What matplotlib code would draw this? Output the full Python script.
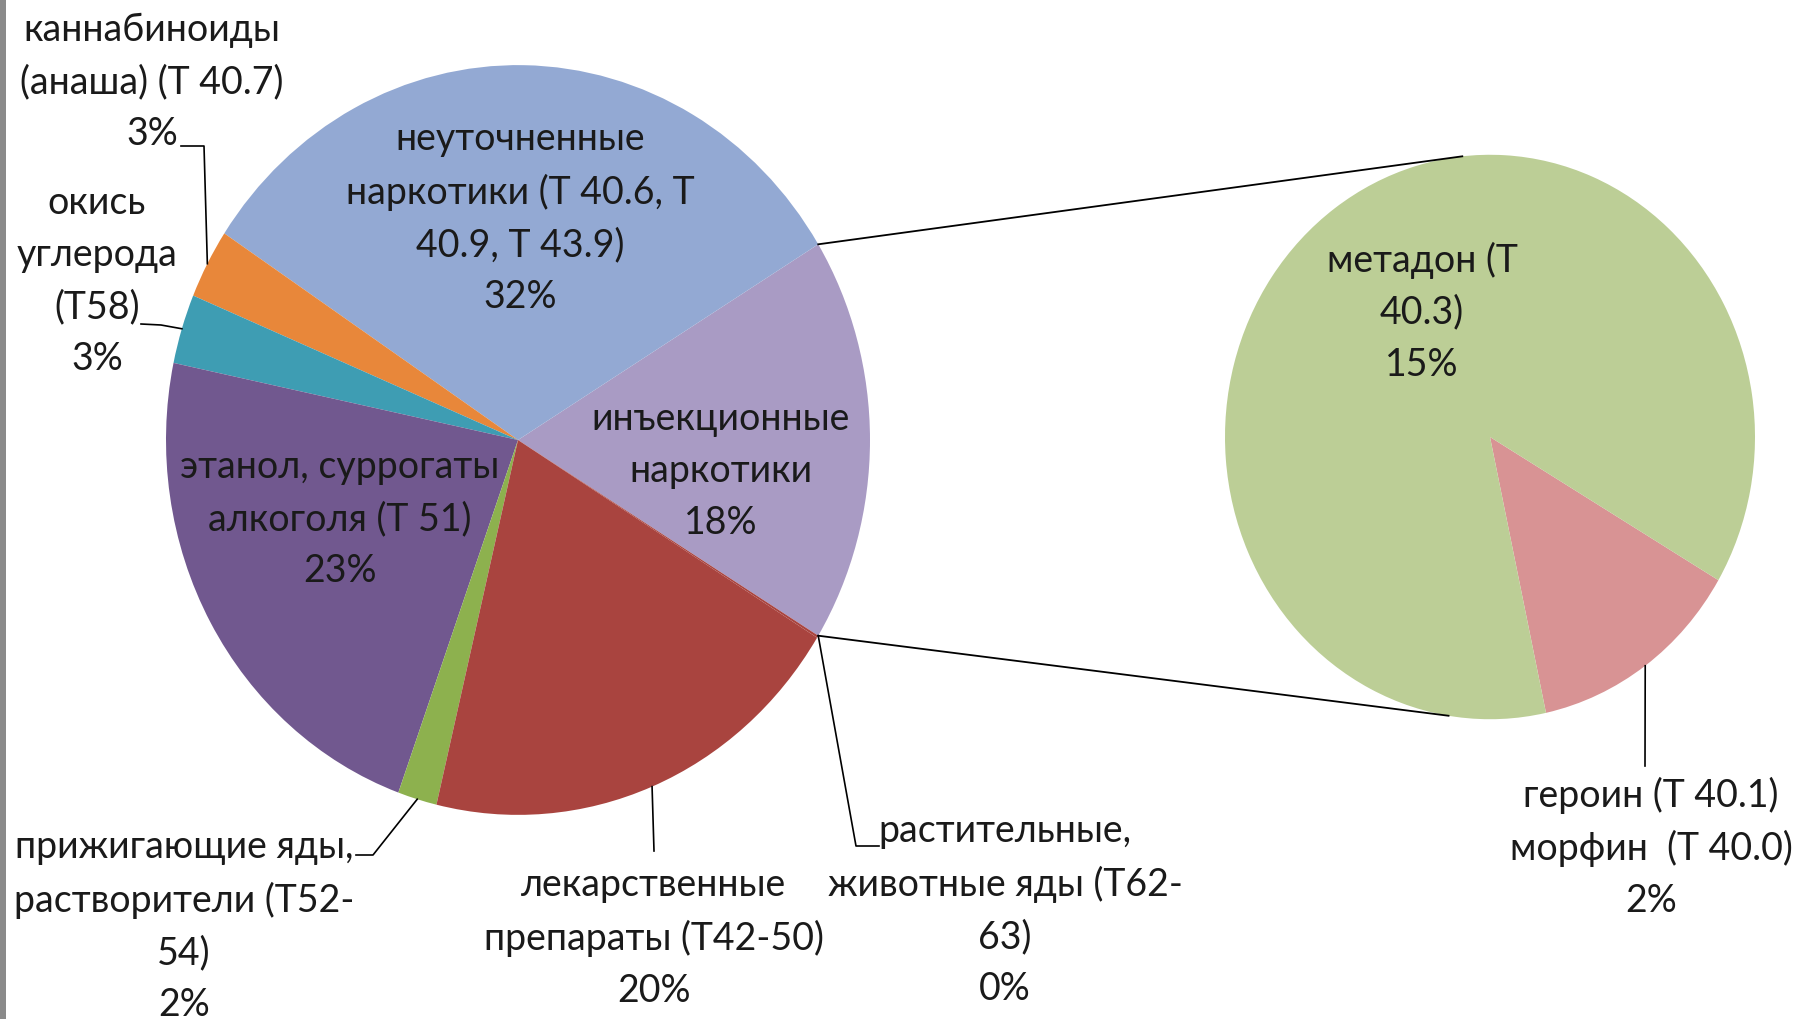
import numpy as np
import matplotlib
matplotlib.use('Agg')
import matplotlib.pyplot as plt
from matplotlib.patches import Rectangle

plt.rcParams['font.family'] = ['Lato', 'DejaVu Sans']

# ---------------- data ----------------
main_labels = ['инъекционные\nнаркотики',
               'неуточненные\nнаркотики (Т 40.6, Т\n40.9, Т 43.9)',
               'каннабиноиды\n(анаша) (Т 40.7)',
               'окись\nуглерода\n(Т58)',
               'этанол, суррогаты\nалкоголя (Т 51)',
               'прижигающие яды,\nрастворители (Т52-\n54)',
               'лекарственные\nпрепараты (Т42-50)',
               'растительные,\nживотные яды (Т62-\n63)']
main_values = [17.5, 32.0, 3.0, 3.0, 22.8, 1.8, 19.9, 0.1]
main_pct = ['18%', '32%', '3%', '3%', '23%', '2%', '20%', '0%']
main_colors = ['#A99BC4', '#93A9D3', '#E8873A', '#3E9DB3', '#71588F',
               '#8DB14E', '#A9443F', '#A9443F']

sub_labels = ['героин (Т 40.1)\nморфин  (Т 40.0)', 'метадон (Т\n40.3)']
sub_values = [2.3, 15.2]
sub_pct = ['2%', '15%']
sub_colors = ['#D89394', '#BCCE96']

# ---------------- layout ----------------
W, H = 1801, 1020
K = 1.065  # vertical stretch of the reference
fig = plt.figure(figsize=(W / 100, H / 100), dpi=100)
ax = fig.add_axes([0, 0, 1, 1])


def P(px, py):
    return px, (H - py) / K


TXT = '#1a1a1a'
FS = 27
LS = 1.55

mc = P(518, 441)
mr = 352
sc = P(1490, 438)
sr = 265

total = sum(main_values)
start = -main_values[0] / total * 360 / 2
wm, _ = ax.pie(main_values, colors=main_colors, startangle=start,
               counterclock=True, center=mc, radius=mr,
               wedgeprops=dict(linewidth=0), frame=False)

sub_start = -77.8
ws, _ = ax.pie(sub_values, colors=sub_colors, startangle=sub_start,
               counterclock=True, center=sc, radius=sr,
               wedgeprops=dict(linewidth=0), frame=False)


def edge(c, r, ang):
    a = np.deg2rad(ang)
    return c[0] + r * np.cos(a), c[1] + r * np.sin(a)


def mid(w):
    return (w.theta1 + w.theta2) / 2


# connector lines between the pies
p1 = edge(mc, mr, wm[0].theta2)
q1 = edge(sc, sr, 96)
p2 = edge(mc, mr, wm[0].theta1)
q2 = edge(sc, sr, -99)
ax.plot([p1[0], q1[0]], [p1[1], q1[1]], color='black', lw=1.3)
ax.plot([p2[0], q2[0]], [p2[1], q2[1]], color='black', lw=1.3)


def put(text, px, py):
    x, y = P(px, py)
    ax.text(x, y, text, ha='center', va='center',
            multialignment='center', fontsize=FS, color=TXT, linespacing=LS)


# inside labels
put(main_labels[1] + '\n' + main_pct[1], 520, 218)
put(main_labels[0] + '\n' + main_pct[0], 721, 471)
put(main_labels[4] + '\n' + main_pct[4], 340, 519)
# outside labels
put(main_labels[2] + '\n' + main_pct[2], 152, 82)
put(main_labels[3] + '\n' + main_pct[3], 97, 281)
put(main_labels[5] + '\n' + main_pct[5], 184, 926)
put(main_labels[6] + '\n' + main_pct[6], 654, 938)
put(main_labels[7] + '\n' + main_pct[7], 1005, 910)
put(sub_labels[1] + '\n' + sub_pct[1], 1422, 312)
put(sub_labels[0] + '\n' + sub_pct[0], 1651, 848)


def leader(points_px, end):
    xs = [P(*p)[0] for p in points_px] + [end[0]]
    ys = [P(*p)[1] for p in points_px] + [end[1]]
    ax.plot(xs, ys, color='black', lw=1.2)


leader([(181, 147), (204, 147)], edge(mc, mr, mid(wm[2])))
leader([(141, 325), (161, 326)], edge(mc, mr, mid(wm[3])))
leader([(356, 856), (373, 856)], edge(mc, mr, mid(wm[5])))
leader([(654, 852)], edge(mc, mr, mid(wm[6])))
leader([(879, 847), (856, 847)], edge(mc, mr, wm[7].theta2))
leader([(1645, 767)], edge(sc, sr, mid(ws[0])))

ax.set_xlim(0, W)
ax.set_ylim(0, H / K)
ax.set_aspect('auto')
ax.axis('off')

fig.add_artist(Rectangle((0, 0), 6 / W, 1, transform=fig.transFigure,
                         color='#8a8a8a', lw=0))

fig.savefig('out.png', dpi=100)
